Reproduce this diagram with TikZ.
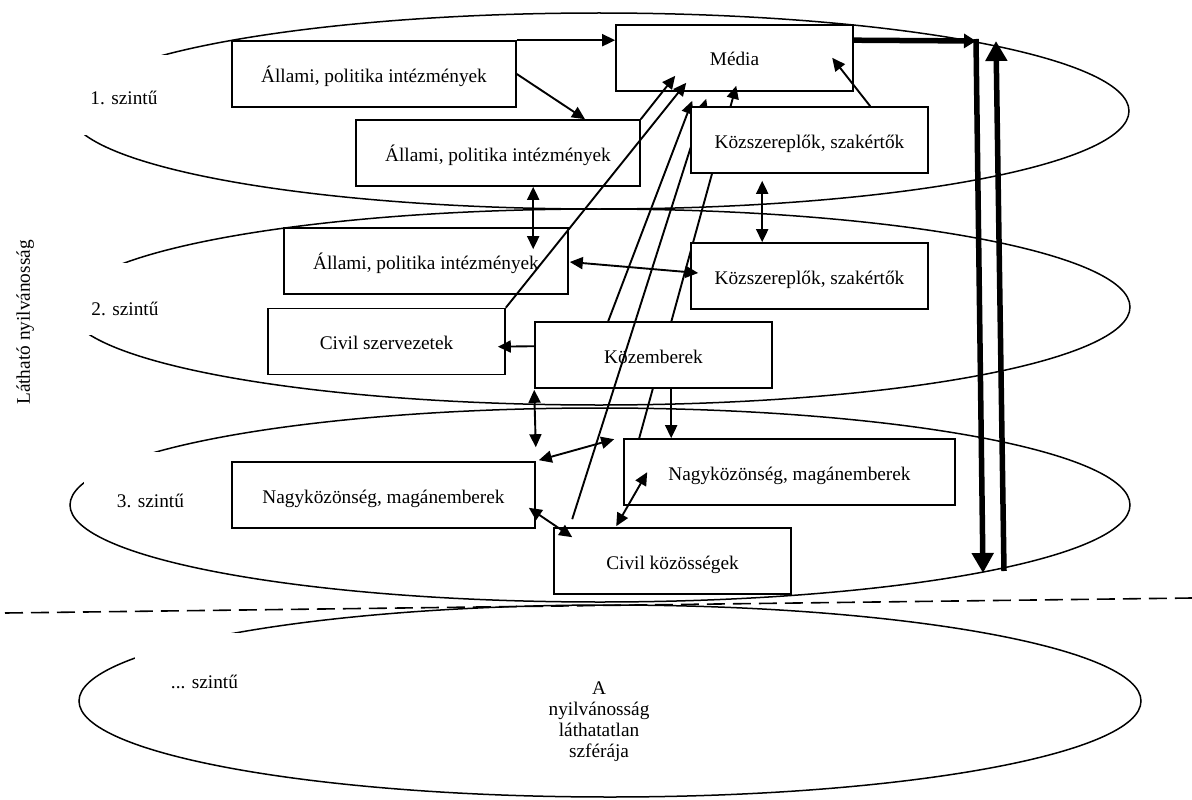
\documentclass[tikz,border=0pt]{standalone}
\usepackage{fontspec}
\setmainfont{Liberation Serif}
\usetikzlibrary{arrows.meta,calc}
\begin{document}
\begin{tikzpicture}[x=1pt,y=-1pt,
  every node/.style={font=\fontsize{19.3}{21}\selectfont, inner sep=0pt},
  box/.style={draw, line width=1.6pt, fill=white, text height=16pt, text depth=0pt, minimum height=66pt},
  wbox/.style={box, minimum width=284pt},
  mbox/.style={box, minimum width=237pt},
  ell/.style={line width=1.5pt},
  mask/.style={fill=white},
  arr/.style={line width=1.9pt, -{Triangle[length=13pt,width=12pt]}},
  darr/.style={line width=1.9pt, {Triangle[length=13pt,width=12pt]}-{Triangle[length=13pt,width=12pt]}},
  thickarr/.style={line width=5.5pt, -{Triangle[length=20pt,width=21pt]}},
  thickmid/.style={line width=5.5pt, -{Triangle[length=12pt,width=14pt]}},
  dashline/.style={line width=1.6pt, dash pattern=on 18pt off 8pt}
]
\useasboundingbox (0,0) rectangle (1192,800);

% level ellipses
\draw[ell] (599,111) ellipse [x radius=530, y radius=98];
\draw[ell] (599,307) ellipse [x radius=531, y radius=98];
\draw[ell] (600,505) ellipse [x radius=530, y radius=97];
\draw[ell] (610,701) ellipse [x radius=531, y radius=96];

% white label areas
\fill[mask] (55,55) rectangle (195,135);
\fill[mask] (55,263) rectangle (165,335);
\fill[mask] (84,452) rectangle (195,520);
\fill[mask] (135,633) rectangle (245,720);

\node[anchor=base] (L1) at (124,105) {1. szintű};
\node[anchor=base] (L2) at (125,315) {2. szintű};
\node[anchor=base] (L3) at (150.5,507) {3. szintű};
\node[anchor=base] (L4) at (204.5,688) {... szintű};
\node[rotate=90, anchor=base] (LN) at (30,322.5) {Látható nyilvánosság};
\node[anchor=north, align=center] (INV) at (599,682) {A\\nyilvánosság\\láthatatlan\\szférája};

% dashed boundary
\coordinate (D1) at (5,613);
\coordinate (D2) at (1192,598);
\draw[dashline] (D1) -- (D2);

% boxes
\node[wbox] (A1) at (374,74) {Állami, politika intézmények};
\node[mbox] (Media) at (734.5,58) {Média};
\node[wbox] (A2) at (498,153) {Állami, politika intézmények};
\node[wbox] (A3) at (426,261) {Állami, politika intézmények};
\node[mbox] (CS) at (386.5,341.5) {Civil szervezetek};
\node[box, minimum width=303pt] (N1) at (383.5,495) {Nagyközönség, magánemberek};
\node[box, minimum width=331pt] (N2) at (789.5,472) {Nagyközönség, magánemberek};
\node[mbox] (CK) at (672.5,561) {Civil közösségek};

% N2 -> Media (passes behind Közemberek and K1)
\draw[arr] ($(N2.north west)+(16,0)$) -- ($(Media.south west)+(121,-6)$);

\node[mbox] (KE) at (653.5,355) {Közemberek};

% lines into Media
\draw[arr] (A2.north east) -- ($(Media.south west)+(60,-16)$);
\draw[arr] (CS.north east) -- ($(Media.south west)+(71,-9)$);
\draw[arr] ($(KE.north west)+(74,0)$) -- ($(Media.south west)+(77,9)$);
\draw[arr] ($(CK.north west)+(19,-8)$) -- ($(Media.south west)+(91,7)$);

\node[mbox] (K1) at (809.5,140) {Közszereplők, szakértők};
\node[mbox] (K2) at (809.5,276) {Közszereplők, szakértők};

% other connectors
\draw[arr] (A1.north east) -- (A1.north east -| Media.west);
\draw[arr] (A1.east) -- ($(A2.north)+(87,0)$);
\draw[arr] ($(K1.north west)+(180,0)$) -- ($(Media.south west)+(217,-34)$);
\draw[darr] ($(A2.south west)+(178,0)$) -- ($(A3.north west)+(250,22)$);
\draw[darr] ($(K1.south west)+(72,7)$) -- ($(K2.north west)+(72,0)$);
\draw[darr] ($(A3.east)+(1,1)$) -- ($(K2.west)+(8,-3)$);
\draw[arr] ($(KE.north west)+(0,25)$) -- ($(CS.north east)+(-8,39)$);
\draw[darr] ($(KE.south west)+(0,1)$) -- ($(N1.north east)+(0,-14)$);
\draw[darr] ($(N1.north east)+(3,-1)$) -- ($(N2.north west)+(-9,1)$);
\draw[arr] ($(KE.south west)+(137,0)$) -- ($(N2.north west)+(48,0)$);
\draw[darr] ($(N1.south east)+(-7,-21)$) -- ($(CK.north west)+(19,10)$);
\draw[darr] ($(CK.north west)+(63,-1)$) -- ($(N2.north west)+(24,34)$);

% thick flows on the right
\coordinate (T1) at (976,41);
\coordinate (T2) at (983,573);
\coordinate (T3) at (1004,571);
\coordinate (T4) at (996,41);
\draw[thickmid] ($(Media.north east)+(0,16)$) -- (T1);
\draw[thickarr] ($(T1)+(0,-2)$) -- (T2);
\draw[thickarr] (T3) -- (T4);
\end{tikzpicture}
\end{document}
